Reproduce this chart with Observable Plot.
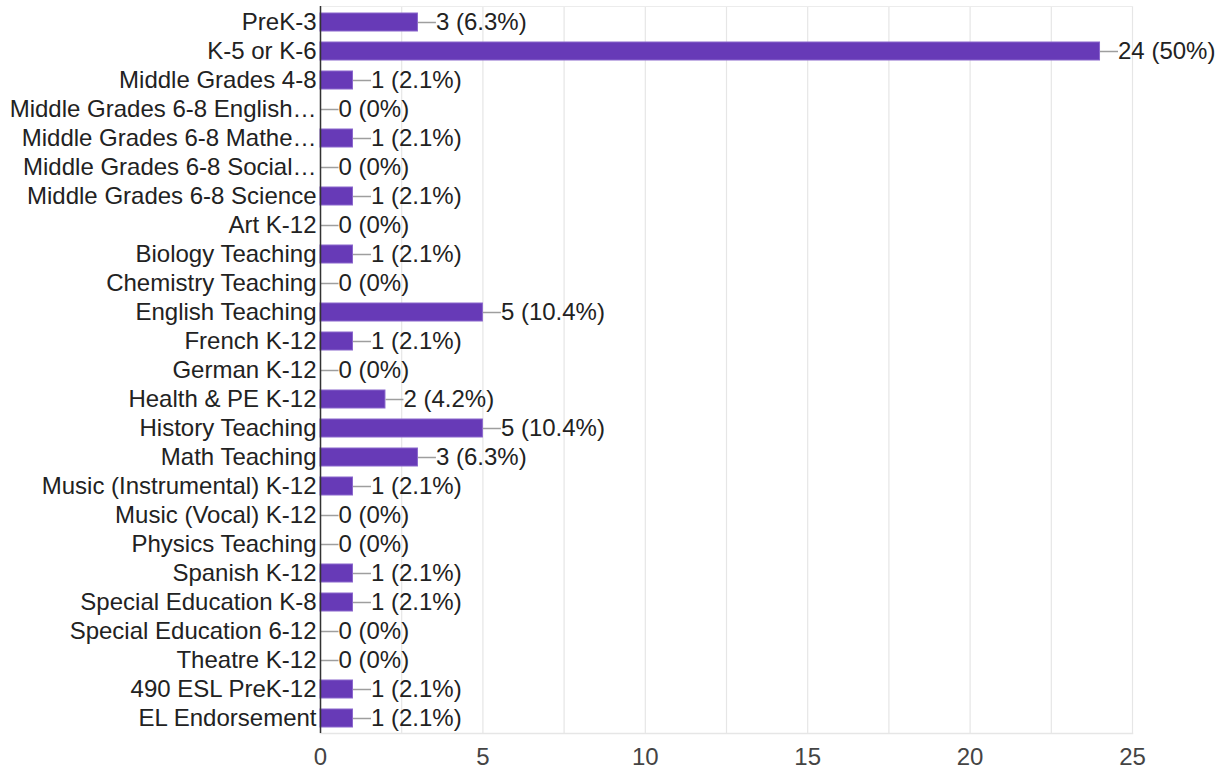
<!DOCTYPE html>
<html>
<head>
<meta charset="utf-8">
<script src="https://cdn.jsdelivr.net/npm/d3@7"></script>
<script src="https://cdn.jsdelivr.net/npm/@observablehq/plot@0.6"></script>
<style>
  html, body { margin: 0; padding: 0; background: #fff; }
  #chart { width: 1223px; height: 771px; }
</style>
</head>
<body>
<div id="chart"></div>
<script>
const categories = [
  "PreK-3", "K-5 or K-6", "Middle Grades 4-8", "Middle Grades 6-8 English…",
  "Middle Grades 6-8 Mathe…", "Middle Grades 6-8 Social…", "Middle Grades 6-8 Science",
  "Art K-12", "Biology Teaching", "Chemistry Teaching", "English Teaching",
  "French K-12", "German K-12", "Health & PE K-12", "History Teaching",
  "Math Teaching", "Music (Instrumental) K-12", "Music (Vocal) K-12",
  "Physics Teaching", "Spanish K-12", "Special Education K-8",
  "Special Education 6-12", "Theatre K-12", "490 ESL PreK-12", "EL Endorsement"
];
const counts = [3, 24, 1, 0, 1, 0, 1, 0, 1, 0, 5, 1, 0, 2, 5, 3, 1, 0, 0, 1, 1, 0, 0, 1, 1];
const percents = ["6.3%", "50%", "2.1%", "0%", "2.1%", "0%", "2.1%", "0%", "2.1%", "0%",
  "10.4%", "2.1%", "0%", "4.2%", "10.4%", "6.3%", "2.1%", "0%", "0%", "2.1%", "2.1%",
  "0%", "0%", "2.1%", "2.1%"];
const xTicks = [0, 5, 10, 15, 20, 25];
const gridTicks = [0, 2.5, 5, 7.5, 10, 12.5, 15, 17.5, 20, 22.5, 25];

const data = categories.map((c, i) => ({cat: c, n: counts[i], label: `${counts[i]} (${percents[i]})`}));

const connector = {
  draw(context) { context.moveTo(0, 0); context.lineTo(18, 0); }
};

const FONT = "'Liberation Sans', Arial, Helvetica, sans-serif";

const chart = Plot.plot({
  width: 1223,
  height: 771,
  marginLeft: 320,
  marginRight: 91,
  marginTop: 6,
  marginBottom: 38,
  style: {fontFamily: FONT, fontSize: "24px", color: "#222", background: "#fff"},
  x: {domain: [0, 25]},
  y: {domain: categories, paddingInner: 0.38, paddingOuter: 0.2},
  marks: [
    Plot.ruleX(gridTicks, {stroke: "#e6e6e6", strokeWidth: 1.2, strokeOpacity: 1}),
    Plot.frame({anchor: "bottom", stroke: "#e6e6e6", strokeWidth: 1.5}),
    Plot.frame({anchor: "top", stroke: "#ececec", strokeWidth: 1}),
    Plot.barX(data, {x: "n", y: "cat", fill: "#673ab7", stroke: "#8a66cc", strokeWidth: 1}),
    Plot.dot(data, {x: "n", y: "cat", symbol: connector, stroke: "#9e9e9e", strokeWidth: 1.5, fill: "none", r: 5}),
    Plot.text(data, {x: "n", y: "cat", text: "label", textAnchor: "start", dx: 18, fill: "#222", fontSize: 24}),
    Plot.ruleX([0], {stroke: "#333", strokeWidth: 1.5}),
    Plot.axisY({tickSize: 0, tickPadding: 4, fontSize: 24, label: null, fill: "#222"}),
    Plot.axisX(xTicks, {tickSize: 0, tickPadding: 14, fontSize: 24, label: null, fill: "#444"})
  ]
});
document.getElementById("chart").append(chart);
</script>
</body>
</html>
